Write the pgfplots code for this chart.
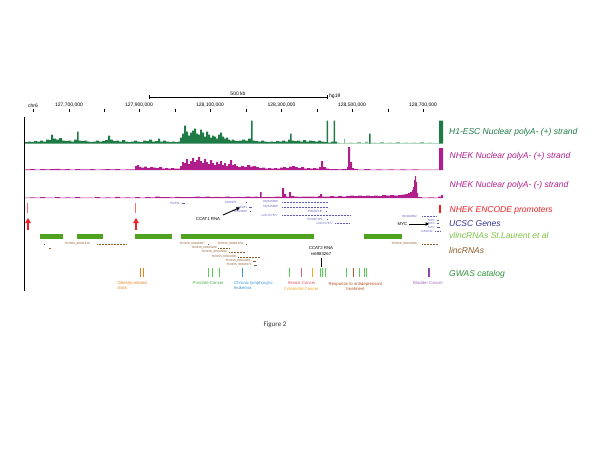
\documentclass[border=0pt]{standalone}
\usepackage{fontspec}
\setmainfont{Liberation Sans}
\newfontfamily\figfont{Carlito}
\usepackage{pgfplots}
\pgfplotsset{compat=1.18}
\usetikzlibrary{arrows.meta}
\definecolor{hgreen}{HTML}{1E7B45}
\definecolor{hlight}{HTML}{86C29C}
\definecolor{nmag}{HTML}{B01E8C}
\definecolor{pred}{HTML}{EE2024}
\definecolor{pink}{HTML}{F07070}
\definecolor{ublue}{HTML}{2E3192}
\definecolor{gblue}{HTML}{5A5AB8}
\definecolor{vbar}{HTML}{4EA21F}
\definecolor{vlab}{HTML}{7CC242}
\definecolor{lbrown}{HTML}{8B5A2B}
\definecolor{gwas}{HTML}{2F8E3B}
\definecolor{gorange}{HTML}{E8821E}
\definecolor{ggreen}{HTML}{55CC55}
\definecolor{gblu}{HTML}{3A9AD9}
\definecolor{gpink}{HTML}{E06070}
\definecolor{gorange2}{HTML}{F5A623}
\definecolor{gbrown}{HTML}{B5532A}
\definecolor{gpurple}{HTML}{8E44AD}
\newcommand{\tk}{\fontsize{5}{6}\selectfont}
\newcommand{\gn}{\fontsize{3}{3.5}\selectfont}
\newcommand{\lb}{\fontsize{4.3}{5}\selectfont}
\newcommand{\tl}{\fontsize{8.5}{10}\selectfont\itshape}
\begin{document}
\begin{tikzpicture}
\begin{axis}[width=600pt,height=464pt,scale only axis,hide axis,
  xmin=0,xmax=600,ymin=0,ymax=464,y dir=reverse,clip=false,
  unbounded coords=jump]
\addplot[draw=none] coordinates {(0,0)(600,464)};

% ---------- ruler ----------
\addplot[black,line width=0.5pt] coordinates {(149,97)(327,97)};
\addplot[black,line width=0.5pt] coordinates {(149,95.3)(149,98.7) (0,nan) (327,95.3)(327,98.7)};
\node[font=\tk] at (axis cs:238,93.5) {500 kb};
\node[font=\tk,anchor=west,inner sep=0] at (axis cs:329,96) {hg19};
\addplot[black,line width=0.4pt] coordinates {
 (33,108.5)(33,112) (0,nan) (69,108.5)(69,112) (0,nan) (104.5,108.5)(104.5,112) (0,nan)
 (139.5,108.5)(139.5,112) (0,nan) (175,108.5)(175,112) (0,nan) (210,108.5)(210,112) (0,nan)
 (246,108.5)(246,112) (0,nan) (281.5,108.5)(281.5,112) (0,nan) (317,108.5)(317,112) (0,nan)
 (352,108.5)(352,112) (0,nan) (388,108.5)(388,112) (0,nan) (423,108.5)(423,112)};
\node[font=\tk] at (axis cs:33,105.5) {chr6};
\node[font=\tk] at (axis cs:69,105.5) {127,700,000};
\node[font=\tk] at (axis cs:139,105.5) {127,900,000};
\node[font=\tk] at (axis cs:210,105.5) {128,100,000};
\node[font=\tk] at (axis cs:281.5,105.5) {128,300,000};
\node[font=\tk] at (axis cs:352,105.5) {128,500,000};
\node[font=\tk] at (axis cs:423,105.5) {128,700,000};

% left frame line
\addplot[black,line width=0.6pt] coordinates {(24.5,117)(24.5,291)};

% ---------- H1-ESC (+) ----------
\addplot[const plot,fill=hgreen,draw=none,y filter/.expression={143.5-y}] coordinates {
(25,0)(25,1.5)(28,2)(31,1.5)(34,2.5)(37,2)(40,3)(43,2)(46,4)(49,3.5)(51,9)(53,5)(56,4)(59,5.5)(62,3)(65,2.5)(68,3)(71,2)(74,4)(77,12)(78.5,3)(81,2.5)(84,3)(87,2)(90,1.5)(93,2)(96,3)(99,2)(102,2.5)(105,3.5)(108,8)(110,4)(113,2.5)(116,3)(119,2)(122,3.5)(125,2)(128,1.5)(131,2)(134,3)(137,2)(140,1.5)(143,3)(146,2.5)(149,4)(152,2)(155,2.5)(158,5)(160,2)(163,3)(166,2)(169,1.5)(172,2)(175,1.5)(178,2)(180,6)(182,10)(184,18)(186,12)(188,8)(190,11)(192,13)(194,15)(196,10)(198,9)(200,14)(202,11)(204,7)(206,12)(208,9)(210,6)(212,8)(214,7)(216,5)(218,9)(220,11)(222,7)(224,5)(226,6)(228,4)(230,3)(232,4)(234,3)(236,2.5)(239,3)(242,4)(245,3)(248,5)(251,23)(252.5,3)(255,2.5)(258,2)(261,3)(264,2)(267,1.5)(270,2)(273,1.5)(276,2.5)(279,2)(282,3)(285,2)(288,4)(290,10)(291.5,3)(294,2.5)(297,3)(300,2)(303,3.5)(306,2)(309,3)(312,2.5)(315,2)(318,3)(321,2)(324,1.5)(326.5,23)(328,1)(331,2)(333.5,23)(335,2)(337,0)};
\addplot[const plot,fill=hlight,draw=none,y filter/.expression={143.5-y}] coordinates {
(337,0)(337,1)(340,0.5)(344,5)(345,0.5)(349,1)(353,0.5)(357,1.5)(361,0.5)(365,2)(368,0.5)(372,1)(376,0.5)(380,1.5)(384,0.3)(388,1)(392,0.5)(396,1.5)(400,0.3)(404,1)(408,0.5)(412,1)(416,0.3)(420,1.5)(424,0.3)(428,1)(432,0.3)(436,0.5)(439,0)};
\addplot[const plot,fill=hgreen,draw=none,y filter/.expression={143.5-y}] coordinates {(369,0)(369,10)(370.5,0)};
\addplot[const plot,fill=hgreen,draw=none,y filter/.expression={143.5-y}] coordinates {(439,0)(439,23)(443,0)};

% ---------- NHEK (+) ----------
\addplot[const plot,fill=nmag,draw=none,y filter/.expression={170-y}] coordinates {
(25,0)(25,0.6)(30,0.8)(35,0.5)(40,1)(45,0.6)(50,0.8)(55,1.2)(60,0.6)(65,0.8)(70,0.5)(75,1)(80,0.7)(85,0.6)(90,0.8)(95,0.5)(100,0.7)(105,0.9)(110,0.6)(115,0.8)(120,0.5)(125,0.7)(130,0.6)(135,4)(137,5)(139,3)(141,2.5)(144,3.5)(147,2)(150,3)(153,2.5)(156,2)(159,3)(162,1.5)(165,2)(168,1.5)(171,2)(174,1.5)(177,1.5)(180,4)(182,8)(184,7)(186,11)(188,6)(190,9)(192,12)(194,8)(196,10)(198,13)(200,9)(202,7)(204,11)(206,8)(208,6)(210,10)(212,7)(214,5)(216,8)(218,6)(220,9)(222,5)(224,7)(226,4)(228,6)(230,10)(232,5)(234,6)(236,4)(238,3)(241,4)(244,3)(247,5)(250,3.5)(253,4)(256,3)(259,2)(262,2.5)(265,1.5)(268,2)(271,1.5)(274,2)(277,1.5)(280,2.5)(283,3)(286,2)(289,3.5)(292,4)(295,3)(298,2)(301,3)(304,1.5)(307,2)(310,1.5)(313,2)(316,1.5)(319,3)(321,9)(323,3)(326,1.5)(329,1)(332,1)(335,0.8)(338,0.6)(341,1)(344,0.8)(347,3)(348,23)(350,8)(352,2)(354,1)(358,0.5)(364,0.8)(370,0.5)(376,0.6)(382,0.4)(388,0.6)(394,0.5)(400,0.6)(406,0.4)(412,0.6)(418,0.5)(424,0.4)(430,0.5)(436,0.4)(439,22)(443,0)};

% ---------- NHEK (-) ----------
\addplot[const plot,fill=nmag,draw=none,y filter/.expression={198-y}] coordinates {
(25,0)(25,0.3)(30,0.6)(35,0.3)(40,0.8)(45,0.3)(50,0.5)(55,0.8)(60,0.3)(65,0.6)(70,0.4)(75,0.9)(80,0.3)(85,0.5)(90,0.3)(95,1)(100,0.4)(105,0.6)(110,0.3)(115,1.2)(120,0.4)(125,0.6)(130,0.5)(135,0.8)(140,0.5)(145,1)(150,0.6)(155,1.5)(160,0.8)(165,1)(170,0.7)(175,1.2)(180,0.8)(185,1)(190,0.9)(195,1.3)(200,0.8)(205,1.5)(210,1)(215,1.2)(220,0.9)(225,1.5)(230,1)(235,1.2)(240,1)(245,1.5)(250,1.1)(255,1.3)(258,1)(260,6)(261.5,1)(265,1.2)(270,1)(275,1.5)(280,1.2)(282,10)(284,4)(286,1.5)(288,1.2)(289,6)(291,2)(294,1.5)(298,1.2)(302,1.5)(306,1.3)(310,1.5)(314,1.2)(318,2)(320,4)(322,1.5)(326,1.5)(330,2)(334,1.5)(338,2)(342,1.5)(346,2)(350,2.5)(354,2)(358,2.5)(362,2)(366,2.5)(370,2)(374,2.5)(378,2)(382,3)(386,2.5)(390,3)(394,2.5)(398,3)(402,3.5)(405,4)(408,5)(410,6)(412,8)(413,11)(414,18)(415,22)(416,16)(417,5)(418,1)(422,0.5)(428,0.6)(434,0.5)(438,1.5)(441,3)(443,0)};

% ---------- promoters ----------
\addplot[pink,line width=0.6pt] coordinates {(27.5,203)(27.5,213) (0,nan) (135.5,203)(135.5,213)};
\addplot[pred,line width=2pt] coordinates {(440,205)(440,213)};
\addplot[pred,line width=1.1pt,-{Triangle[width=5.5pt,length=5pt]}] coordinates {(28,230)(28,218)};
\addplot[pred,line width=1.1pt,-{Triangle[width=5.5pt,length=5pt]}] coordinates {(136,230)(136,218)};

% ---------- UCSC genes ----------
\addplot[gblue,line width=0.7pt,dash pattern=on 1pt off 0.5pt] coordinates {
 (282,202)(328,202) (0,nan) (282,207)(328,207) (0,nan) (282,215)(350,215) (0,nan)
 (335,223)(350,223) (0,nan) (422,216)(437,216)};
\addplot[gblue,line width=0.9pt] coordinates {
 (182,203)(185,203) (0,nan) (245.5,202)(246.5,202) (0,nan) (249,207)(252,207) (0,nan)
 (249.5,211)(250.5,211) (0,nan) (325.5,211)(327,211) (0,nan) (326.5,219)(327.5,219) (0,nan)
 (437,220)(438.5,220) (0,nan) (437,223.5)(439,223.5) (0,nan) (436.5,227)(439.5,227)};
\addplot[gblue,line width=0.6pt,dash pattern=on 1pt off 0.5pt] coordinates {(435,231)(440,231)};
\node[font=\gn,text=gblue,anchor=east,inner sep=0] at (axis cs:180,203) {PCAT1};
\node[font=\gn,text=gblue,anchor=east,inner sep=0] at (axis cs:237,202) {JX00971};
\node[font=\gn,text=gblue,anchor=east,inner sep=0] at (axis cs:247.5,207) {CCAT1};
\node[font=\gn,text=gblue,anchor=east,inner sep=0] at (axis cs:247,211) {BC03630};
\node[font=\gn,text=gblue,anchor=east,inner sep=0] at (axis cs:278,202) {DQ515898};
\node[font=\gn,text=gblue,anchor=east,inner sep=0] at (axis cs:278,207) {DQ515899};
\node[font=\gn,text=gblue,anchor=east,inner sep=0] at (axis cs:322,211) {POU5F1B};
\node[font=\gn,text=gblue,anchor=east,inner sep=0] at (axis cs:278,215) {LOC727677};
\node[font=\gn,text=gblue,anchor=east,inner sep=0] at (axis cs:323,219) {POU5F1P1};
\node[font=\gn,text=gblue,anchor=east,inner sep=0] at (axis cs:333,223) {LOC727677};
\node[font=\gn,text=gblue,anchor=east,inner sep=0] at (axis cs:417,216) {BC042052};
\node[font=\gn,text=gblue,anchor=east,inner sep=0] at (axis cs:435,220) {MYC};
\node[font=\gn,text=gblue,anchor=east,inner sep=0] at (axis cs:435,223.5) {MYC};
\node[font=\gn,text=gblue,anchor=east,inner sep=0] at (axis cs:435,227) {MYC};
\node[font=\gn,text=gblue,anchor=east,inner sep=0] at (axis cs:433,231) {CASC11};
\node[font=\lb] at (axis cs:208,219) {CCAT1 RNA};
\addplot[black,line width=0.9pt,-{Triangle[width=3.5pt,length=3.5pt]}] coordinates {(223,215)(240,207.5)};
\node[font=\lb] at (axis cs:402.5,224) {MYC};
\addplot[black,line width=0.9pt,-{Triangle[width=3.5pt,length=3.5pt]}] coordinates {(409,224)(429,224)};

% ---------- vlincRNAs ----------
\addplot[vbar,line width=4.5pt] coordinates {
 (40,236.5)(63,236.5) (0,nan) (77,236.5)(103,236.5) (0,nan) (135,236.5)(172,236.5) (0,nan)
 (181,236.5)(314,236.5) (0,nan) (364,236.5)(402,236.5)};

% ---------- lincRNAs ----------
\addplot[lbrown,line width=0.7pt,dash pattern=on 1pt off 0.5pt] coordinates {
 (97,244)(126,244) (0,nan) (218,248)(230,248) (0,nan) (229,252)(245,252) (0,nan)
 (238,257)(260,257) (0,nan) (422,244)(438,244)};
\addplot[lbrown,line width=1pt] coordinates {
 (43.5,244)(45,244) (0,nan) (49,248)(51,248) (0,nan) (207.5,244)(209,244) (0,nan)
 (245.5,244)(247,244) (0,nan) (253,261)(256,261) (0,nan) (254,265)(257,265)};
\node[font=\gn,text=lbrown,anchor=east,inner sep=0] at (axis cs:90,244) {TCONS\_00011516};
\node[font=\gn,text=lbrown,anchor=east,inner sep=0] at (axis cs:205,244) {TCONS\_00016167};
\node[font=\gn,text=lbrown,anchor=east,inner sep=0] at (axis cs:243,244) {TCONS\_00001979};
\node[font=\gn,text=lbrown,anchor=east,inner sep=0] at (axis cs:217,248) {TCONS\_00014028};
\node[font=\gn,text=lbrown,anchor=east,inner sep=0] at (axis cs:227,252) {TCONS\_00014030};
\node[font=\gn,text=lbrown,anchor=east,inner sep=0] at (axis cs:237,257) {TCONS\_00014031};
\node[font=\gn,text=lbrown,anchor=east,inner sep=0] at (axis cs:251,261) {TCONS\_00014021};
\node[font=\gn,text=lbrown,anchor=east,inner sep=0] at (axis cs:252,265) {TCONS\_00016171};
\node[font=\gn,text=lbrown,anchor=east,inner sep=0] at (axis cs:417,244) {TCONS\_00014026};

% CCAT2
\node[font=\lb] at (axis cs:321,248) {CCAT2 RNA};
\node[font=\lb] at (axis cs:321,254) {rs6983267};
\addplot[black,line width=0.6pt] coordinates {(321,257.5)(321,267)};

% ---------- GWAS ----------
\addplot[gorange,line width=0.9pt] coordinates {(140,268)(140,277) (0,nan) (143.3,268)(143.3,277)};
\addplot[ggreen,line width=0.9pt] coordinates {
 (208.3,268)(208.3,277) (0,nan) (212.7,268)(212.7,277) (0,nan) (219.3,268)(219.3,277) (0,nan)
 (289.3,268)(289.3,277) (0,nan) (320,268)(320,277) (0,nan) (322.7,268)(322.7,277) (0,nan)
 (325.7,268)(325.7,277) (0,nan) (346.7,268)(346.7,277) (0,nan) (359,268)(359,277) (0,nan)
 (364.3,268)(364.3,277) (0,nan) (366.7,268)(366.7,277)};
\addplot[gblu,line width=0.9pt] coordinates {(242.7,268)(242.7,277)};
\addplot[gpink,line width=0.9pt] coordinates {(301,268)(301,277)};
\addplot[gorange2,line width=0.9pt] coordinates {(312.3,268)(312.3,277)};
\addplot[gbrown,line width=0.9pt] coordinates {(353.3,268)(353.3,277)};
\addplot[gpurple,line width=1.4pt] coordinates {(429,268)(429,277)};
\node[font=\lb,text=gorange,anchor=west,inner sep=0,align=left] at (axis cs:117.5,285.5) {Obesity-related\\traits};
\node[font=\lb,text=ggreen!85!black,anchor=west,inner sep=0] at (axis cs:192.5,283) {Prostate Cancer};
\node[font=\lb,text=gblu,anchor=west,inner sep=0,align=left] at (axis cs:234,285) {Chronic lymphocytic\\leukemia};
\node[font=\lb,text=gpink!90!red,anchor=west,inner sep=0] at (axis cs:288,283) {Breast Cancer};
\node[font=\lb,text=gorange2,anchor=west,inner sep=0] at (axis cs:284,289) {Colorectal Cancer};
\node[font=\lb,text=gbrown,inner sep=0,align=center] at (axis cs:355.5,286.5) {Response to antidepressant\\treatment};
\node[font=\lb,text=gpurple!80!white,anchor=west,inner sep=0] at (axis cs:413,282.5) {Bladder Cancer};

% ---------- track labels ----------
\node[font=\tl,text=hgreen,anchor=west,inner sep=0] at (axis cs:449,132) {H1-ESC Nuclear polyA- (+) strand};
\node[font=\tl,text=nmag,anchor=west,inner sep=0] at (axis cs:449.5,156) {NHEK Nuclear polyA- (+) strand};
\node[font=\tl,text=nmag,anchor=west,inner sep=0] at (axis cs:449.5,185.5) {NHEK Nuclear polyA- (-) strand};
\node[font=\tl,text=pred,anchor=west,inner sep=0] at (axis cs:449.5,210) {NHEK ENCODE promoters};
\node[font=\tl,text=ublue,anchor=west,inner sep=0] at (axis cs:449,223.3) {UCSC Genes};
\node[font=\tl,text=vlab,anchor=west,inner sep=0] at (axis cs:449,235.7) {vlincRNAs St.Laurent et al};
\node[font=\tl,text=lbrown,anchor=west,inner sep=0] at (axis cs:449,250) {lincRNAs};
\node[font=\tl,text=gwas,anchor=west,inner sep=0] at (axis cs:449,274.3) {GWAS catalog};

\node[font=\figfont\fontsize{7}{8}\selectfont,text=black!80] at (axis cs:275,325) {Figure 2};
\end{axis}
\end{tikzpicture}
\end{document}
